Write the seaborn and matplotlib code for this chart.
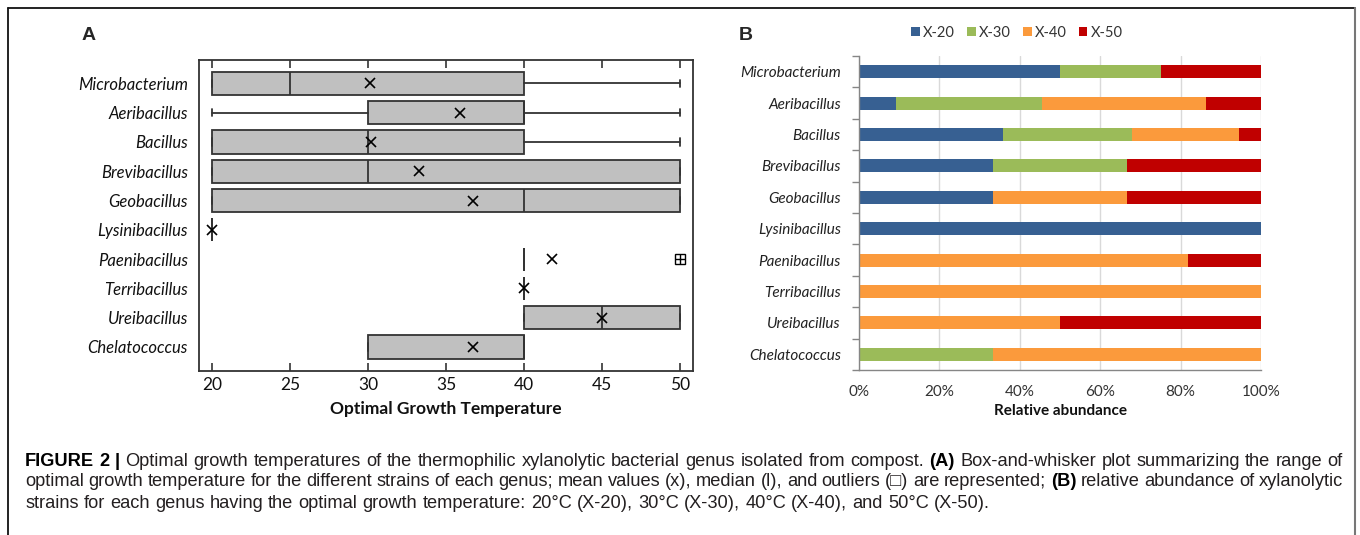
import numpy as np
import pandas as pd
import matplotlib
matplotlib.use("Agg")
import matplotlib.pyplot as plt
import seaborn as sns
from matplotlib.patches import Rectangle
from matplotlib.lines import Line2D

# ---------------- data ----------------
genera = ["Microbacterium", "Aeribacillus", "Bacillus", "Brevibacillus", "Geobacillus",
          "Lysinibacillus", "Paenibacillus", "Terribacillus", "Ureibacillus", "Chelatococcus"]

# Panel A: box-and-whisker statistics (optimal growth temperature, deg C)
box_q1     = [20, 30, 20, 20, 20, 20, 40, 40, 40, 30]
box_median = [25, 40, 30, 30, 40, 20, 40, 40, 45, 40]
box_q3     = [40, 40, 40, 50, 50, 20, 40, 40, 50, 40]
box_whislo = [20, 20, 20, 20, 20, 20, 40, 40, 40, 30]
box_whishi = [50, 50, 50, 50, 50, 20, 40, 40, 50, 40]
box_mean   = [30.1, 35.9, 30.2, 33.3, 36.7, 20.0, 41.8, 40.0, 45.0, 36.7]
box_outliers = [[], [], [], [], [], [], [50], [], [], []]
temp_ticks = [20, 25, 30, 35, 40, 45, 50]

# Panel B: relative abundance (%)
series = ["X-20", "X-30", "X-40", "X-50"]
x20 = [50.0, 9.1, 35.7, 33.3, 33.3, 100.0, 0.0, 0.0, 0.0, 0.0]
x30 = [25.0, 36.4, 32.1, 33.3, 0.0, 0.0, 0.0, 0.0, 0.0, 33.3]
x40 = [0.0, 40.9, 26.8, 0.0, 33.3, 0.0, 81.8, 100.0, 50.0, 66.7]
x50 = [25.0, 13.6, 5.4, 33.4, 33.4, 0.0, 18.2, 0.0, 50.0, 0.0]
colors = ["#376092", "#9BBB59", "#FB9A3C", "#C00000"]
pct_ticks = [0, 20, 40, 60, 80, 100]

caption_lines = [
    [("FIGURE", True), ("2", True), ("|", True), ("Optimal", False), ("growth", False), ("temperatures", False),
     ("of", False), ("the", False), ("thermophilic", False), ("xylanolytic", False), ("bacterial", False),
     ("genus", False), ("isolated", False), ("from", False), ("compost.", False), ("(A)", True),
     ("Box-and-whisker", False), ("plot", False), ("summarizing", False), ("the", False), ("range", False), ("of", False)],
    [("optimal", False), ("growth", False), ("temperature", False), ("for", False), ("the", False),
     ("different", False), ("strains", False), ("of", False), ("each", False), ("genus;", False), ("mean", False),
     ("values", False), ("(x),", False), ("median", False), ("(l),", False), ("and", False), ("outliers", False),
     ("(\u25a1)", False), ("are", False), ("represented;", False), ("(B)", True), ("relative", False),
     ("abundance", False), ("of", False), ("xylanolytic", False)],
    [("strains", False), ("for", False), ("each", False), ("genus", False), ("having", False), ("the", False),
     ("optimal", False), ("growth", False), ("temperature:", False), ("20\u00b0C", False), ("(X-20),", False),
     ("30\u00b0C", False), ("(X-30),", False), ("40\u00b0C", False), ("(X-40),", False), ("and", False),
     ("50\u00b0C", False), ("(X-50).", False)],
]

# ---------------- style ----------------
sns.set_theme(style="white")
plt.rcParams["font.family"] = ["Lato", "DejaVu Sans"]
plt.rcParams["axes.linewidth"] = 1.0

W, H = 1360, 535
fig = plt.figure(figsize=(W / 100, H / 100), dpi=100)
fig.patch.set_facecolor("white")

# ---------------- panel A ----------------
axA = fig.add_axes([199 / W, 1 - 371 / H, (693 - 199) / W, (371 - 60) / H])
stats = []
for i, g in enumerate(genera):
    stats.append(dict(label=g, q1=box_q1[i], med=box_median[i], q3=box_q3[i],
                      whislo=box_whislo[i], whishi=box_whishi[i], mean=box_mean[i],
                      fliers=np.array(box_outliers[i], dtype=float)))
edge = "#333333"
axA.bxp(stats, positions=np.arange(len(genera)), orientation="horizontal", widths=0.79,
        patch_artist=True, showmeans=True, capwidths=0.24,
        boxprops=dict(facecolor="#c0c0c0", edgecolor=edge, linewidth=1.3),
        medianprops=dict(color=edge, linewidth=1.3),
        whiskerprops=dict(color=edge, linewidth=1.3),
        capprops=dict(color=edge, linewidth=1.3),
        meanprops=dict(marker="x", markeredgecolor="black", markerfacecolor="black",
                       markersize=7.5, markeredgewidth=1.2),
        flierprops=dict(marker="s", markerfacecolor="none", markeredgecolor="black",
                        markersize=7, markeredgewidth=1.0))
# plus inside outlier squares
for i, outs in enumerate(box_outliers):
    if outs:
        axA.plot(outs, [i] * len(outs), linestyle="none", marker="+", color="black",
                 markersize=7, markeredgewidth=1.0)

axA.set_xlim(19.17, 50.83)
axA.set_ylim(9.82, -0.8)
axA.set_xticks(temp_ticks)
axA.set_xticklabels([str(t) for t in temp_ticks], fontsize=12.5, color="#111111")
axA.set_yticks(np.arange(len(genera)))
axA.set_yticklabels(genera, fontsize=12, style="italic", color="#111111")
axA.tick_params(axis="x", which="major", direction="in", length=6, width=1.2, color=edge,
                top=True, bottom=True, labeltop=False, pad=4)
axA.tick_params(axis="y", length=0, pad=8)
for s in axA.spines.values():
    s.set_color(edge)
    s.set_linewidth(1.3)
axA.set_xlabel("Optimal Growth Temperature", fontsize=12.5, fontweight="bold", color="#111111")
axA.xaxis.set_label_coords(0.5, -38 / 311)
axA.xaxis.label.set_va("center")

# ---------------- panel B ----------------
axB = fig.add_axes([859 / W, 1 - 370 / H, (1261 - 859) / W, (370 - 56) / H])
dfB = pd.DataFrame({"genus": genera, "X-20": x20, "X-30": x30, "X-40": x40, "X-50": x50})
cum = dfB[series].cumsum(axis=1)
for s, c in reversed(list(zip(series, colors))):
    sns.barplot(x=cum[s], y=dfB["genus"], color=c, width=0.42, orient="h", ax=axB,
                errorbar=None, saturation=1, linewidth=0)
axB.set_xlim(0, 100)
axB.set_ylim(9.5, -0.5)
axB.set_xticks(pct_ticks)
axB.set_xticklabels([f"{t}%" for t in pct_ticks], fontsize=11, color="#333333")
axB.grid(axis="x", color="#d9d9d9", linewidth=1.0)
axB.grid(axis="y", visible=False)
axB.set_axisbelow(True)
axB.set_yticks(np.arange(len(genera)))
axB.set_yticklabels(genera, fontsize=11, style="italic", color="#222222")
axB.set_yticks(np.arange(-0.5, len(genera), 1.0), minor=True)
axB.tick_params(axis="y", which="major", length=0, pad=13)
axB.tick_params(axis="y", which="minor", length=5, width=1.0, color="#868686", direction="out", left=True)
axB.tick_params(axis="x", which="both", length=0, pad=11)
for k in ["top", "right"]:
    axB.spines[k].set_visible(False)
for k in ["left", "bottom"]:
    axB.spines[k].set_color("#868686")
    axB.spines[k].set_linewidth(1.0)
axB.set_ylabel("")
axB.set_xlabel("Relative abundance", fontsize=11, fontweight="bold", color="#111111")
axB.xaxis.set_label_coords(0.5, -41 / 314)
axB.xaxis.label.set_va("center")

handles = [Rectangle((0, 0), 1, 1, facecolor=c, edgecolor="none") for c in colors]
fig.legend(handles, series, loc="center", bbox_to_anchor=(1017 / W, 1 - 33 / H), ncol=4,
           frameon=False, fontsize=10.5, handlelength=0.6, handleheight=0.6,
           handletextpad=0.25, columnspacing=0.8, labelcolor="#333333")

# panel letters
fig.text(89 / W, 1 - 35 / H, "A", fontsize=14, fontweight="bold", ha="center", va="center",
         family=["Liberation Sans", "DejaVu Sans"])
fig.text(746 / W, 1 - 35 / H, "B", fontsize=14, fontweight="bold", ha="center", va="center",
         family=["Liberation Sans", "DejaVu Sans"])

# ---------------- frame ----------------
fig.add_artist(Line2D([8 / W, 1355 / W], [1 - 8 / H, 1 - 8 / H], transform=fig.transFigure,
                      color="#111111", lw=1.3))
fig.add_artist(Line2D([8 / W, 8 / W], [1 - 8 / H, 0], transform=fig.transFigure,
                      color="#111111", lw=1.3))
fig.add_artist(Line2D([1355 / W, 1355 / W], [1 - 8 / H, 0], transform=fig.transFigure,
                      color="#777777", lw=1.5))

# ---------------- caption ----------------
renderer = fig.canvas.get_renderer()
cap_family = ["Liberation Sans", "DejaVu Sans"]
cap_color = "#231f20"


def word_width(txt, bold, size):
    t = fig.text(0, 0, txt, fontsize=size, fontweight="bold" if bold else "normal", family=cap_family)
    w = t.get_window_extent(renderer).width
    t.remove()
    return w


x_left, x_right = 25, 1343
target = x_right - x_left
base = 11.0
ws = sum(word_width(w, b, base) for w, b in caption_lines[0])
sp = word_width("a a", False, base) - word_width("aa", False, base)
nat = ws + sp * (len(caption_lines[0]) - 1)
size = base * target / nat * 0.995
sp = word_width("a a", False, size) - word_width("aa", False, size)
line_y = [461, 482, 503]
for li, words in enumerate(caption_lines):
    widths = [word_width(w, b, size) for w, b in words]
    if li < 2:
        gap = (target - sum(widths)) / (len(words) - 1)
    else:
        gap = sp
    x = x_left
    for (w, b), wd in zip(words, widths):
        fig.text(x / W, 1 - line_y[li] / H, w, fontsize=size, fontweight="bold" if b else "normal",
                 family=cap_family, color=cap_color if not b else "#000000", va="center", ha="left")
        x += wd + gap

fig.savefig("out.png", dpi=100, facecolor="white")
